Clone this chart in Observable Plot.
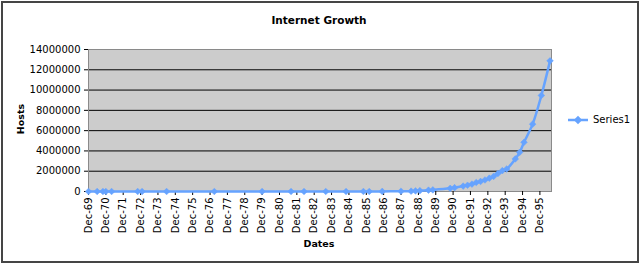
<!DOCTYPE html>
<html>
<head>
<meta charset="utf-8">
<script src="https://cdn.jsdelivr.net/npm/d3@7"></script>
<script src="https://cdn.jsdelivr.net/npm/@observablehq/plot@0.6"></script>
<style>
  html, body { margin: 0; padding: 0; background: #fff; }
  #wrap { position: relative; width: 640px; height: 264px; font-family: "DejaVu Sans", Verdana, sans-serif; color: #000; }
  #wrap svg { position: absolute; left: 0; top: 0; }
  .abs { position: absolute; white-space: nowrap; line-height: 1; }
  #border { position: absolute; left: 1px; top: 1px; width: 638px; height: 262px; box-sizing: border-box; border: 2px solid #454545; pointer-events: none; }
</style>
</head>
<body>
<div id="wrap"></div>
<script>
// ---- data ----
const dates = ["1969-12","1970-06","1970-10","1970-12","1971-04","1972-10","1973-01","1974-06",
  "1977-03","1979-12","1981-08","1982-05","1983-08","1984-10","1985-10","1986-02","1986-11",
  "1987-12","1988-07","1988-10","1989-01","1989-07","1989-10","1990-10","1991-01","1991-07",
  "1991-10","1992-01","1992-04","1992-07","1992-10","1993-01","1993-04","1993-07","1993-10",
  "1994-01","1994-07","1994-10","1995-01","1995-07","1996-01","1996-07"];
const hosts = [4, 9, 11, 13, 23, 31, 35, 62,
  111, 188, 213, 235, 562, 1024, 1961, 2308, 5089,
  28174, 33000, 56000, 80000, 130000, 159000, 313000, 376000, 535000,
  617000, 727000, 890000, 992000, 1136000, 1313000, 1486000, 1776000, 2056000,
  2217000, 3212000, 3864000, 4852000, 6642000, 9472000, 12881000];
const tickYears = d3.range(1969, 1996);           // Dec-69 ... Dec-95
const yTicks = [0, 2000000, 4000000, 6000000, 8000000, 10000000, 12000000, 14000000];
const seriesName = "Series1";
const title = "Internet Growth";
const xLabel = "Dates";
const yLabel = "Hosts";

const data = dates.map((d, i) => ({date: new Date(d + "-01T00:00:00Z"), hosts: hosts[i]}));
const tickDates = tickYears.map(y => new Date(Date.UTC(y, 11, 1)));
const blue = "#66a3ff";

const chart = Plot.plot({
  width: 640, height: 264,
  marginLeft: 88, marginRight: 89, marginTop: 49, marginBottom: 73,
  style: {fontFamily: "DejaVu Sans, Verdana, sans-serif", fontSize: "10px", background: "transparent", overflow: "visible", color: "#000"},
  x: {type: "utc", domain: [new Date(Date.UTC(1969, 11, 1)), new Date(Date.UTC(1996, 7, 1))]},
  y: {domain: [0, 14000000]},
  marks: [
    Plot.frame({fill: "#cccccc", stroke: "none"}),
    Plot.gridY(yTicks.filter(t => t > 0 && t < 14000000), {stroke: "#000", strokeOpacity: 1, strokeWidth: 1}),
    Plot.frame({stroke: "#8a8a8a", strokeWidth: 1}),
    Plot.axisY({ticks: yTicks, tickFormat: d3.format("d"), tickSize: 4, tickPadding: 4, label: null, stroke: "#000"}),
    Plot.axisX({ticks: tickDates, tickFormat: d3.utcFormat("%b-%y"), tickRotate: -90, tickSize: 4, tickPadding: 2, label: null, stroke: "#000"}),
    Plot.line(data, {x: "date", y: "hosts", stroke: blue, strokeWidth: 2.5, curve: "catmull-rom"}),
    Plot.dot(data, {x: "date", y: "hosts", symbol: "diamond2", r: 3, fill: blue, stroke: blue, strokeWidth: 0.5})
  ]
});

const wrap = document.getElementById("wrap");
wrap.appendChild(chart);

function addText(txt, css) {
  const el = document.createElement("div");
  el.className = "abs";
  el.textContent = txt;
  Object.assign(el.style, css);
  wrap.appendChild(el);
  return el;
}
// title
addText(title, {left: "319px", top: "19.5px", transform: "translate(-50%,-50%)", fontWeight: "bold", fontSize: "10.5px"});
// axis labels
addText(xLabel, {left: "319px", top: "243.5px", transform: "translate(-50%,-50%)", fontWeight: "bold", fontSize: "9.5px"});
addText(yLabel, {left: "20.5px", top: "119px", transform: "translate(-50%,-50%) rotate(-90deg)", fontWeight: "bold", fontSize: "9.5px"});
// legend
const leg = document.createElement("div");
leg.className = "abs";
Object.assign(leg.style, {left: "568px", top: "119.5px", transform: "translateY(-50%)", display: "flex", alignItems: "center", fontSize: "10px"});
leg.innerHTML = `<svg width="21" height="10" style="position:static;overflow:visible"><line x1="0" y1="5" x2="20" y2="5" stroke="${blue}" stroke-width="2.5"/><path d="M10,0.8L14.2,5L10,9.2L5.8,5Z" fill="${blue}"/></svg><span style="margin-left:4px">${seriesName}</span>`;
wrap.appendChild(leg);
// outer border
const b = document.createElement("div");
b.id = "border";
wrap.appendChild(b);
</script>
</body>
</html>
